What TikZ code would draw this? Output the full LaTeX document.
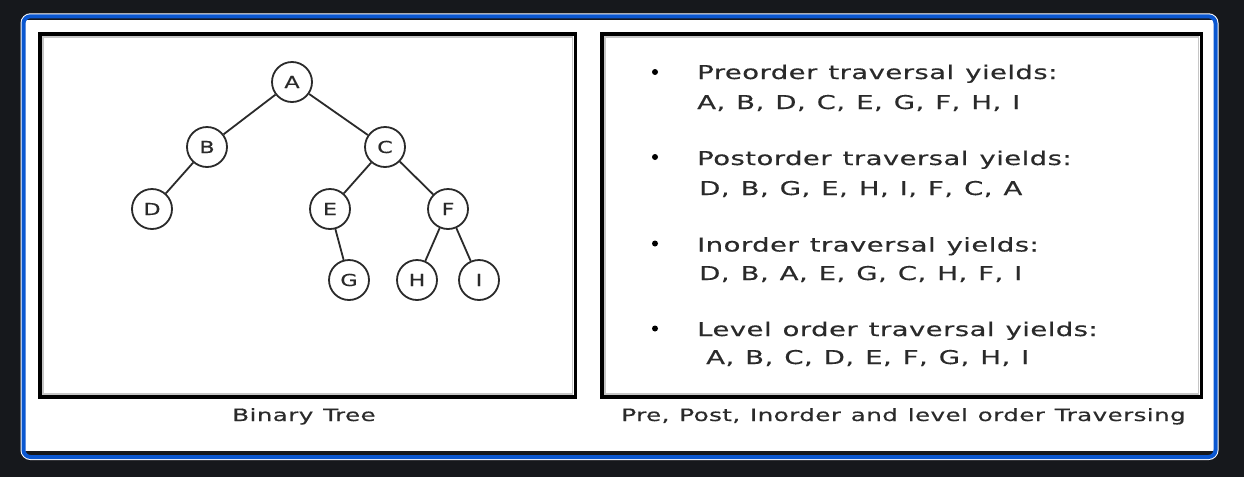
\documentclass[tikz,border=0pt]{standalone}
\usepackage{fontspec}
\setmainfont{DejaVu Sans}
\newfontfamily\wide[FakeStretch=1.45, FakeBold=0.4, WordSpace=1.2, LetterSpace=2.2]{DejaVu Sans}
\newfontfamily\nodefont[FakeStretch=1.35, FakeBold=0.4]{DejaVu Sans}
\usetikzlibrary{positioning}
\definecolor{pagebg}{HTML}{16181C}
\definecolor{framebl}{HTML}{0B57D0}
\definecolor{ink}{HTML}{2A2A2A}
\tikzset{
    vertex/.style={circle, draw=ink, line width=1.8pt, minimum size=40pt, inner sep=0pt,
        text=ink, font=\nodefont\fontsize{16.5}{16.5}\selectfont}, % tree nodes
    link/.style={draw=ink, line width=1.8pt},
    panel/.style={draw=black, line width=3.5pt},
    panelshade/.style={draw=gray!45, line width=1.5pt},
    travline/.style={anchor=base west, inner sep=0pt, text=ink, font=\wide\fontsize{19}{19}\selectfont},
    caption/.style={anchor=base, inner sep=0pt, text=ink, font=\wide\fontsize{17}{17}\selectfont},
    dot/.style={circle, fill=black, inner sep=0pt, minimum size=6pt},
}
\begin{document}
\begin{tikzpicture}[x=1pt, y=-1pt]
    \useasboundingbox (0,0) rectangle (1244,477);
    % background and frame
    \fill[pagebg] (0,0) rectangle (1244,477);
    \draw[white, line width=6pt, rounded corners=7pt, fill=white] (23.5,16.3) rectangle (1215.5,457);
    \fill[pagebg] (25,18.3) rectangle (1214,20);
    \fill[pagebg] (25,451) rectangle (1214,455);
    \draw[framebl, line width=4pt, rounded corners=7pt] (23.5,16.3) rectangle (1215.5,457);
    % the two panels
    \draw[panelshade] (43,37) rectangle (572.5,394);
    \draw[panel] (40,34) rectangle (575.5,397);
    \draw[panelshade] (605,37) rectangle (1198.5,394);
    \draw[panel] (602,34) rectangle (1201.5,397);

    % binary tree
    \node[vertex] (A) at (292,82) {A};
    \node[vertex] (B) at (207,147) {B};
    \node[vertex] (C) at (385,147) {C};
    \node[vertex] (D) at (152,209) {D};
    \node[vertex] (E) at (330,209) {E};
    \node[vertex] (F) at (448,209) {F};
    \node[vertex] (G) at (349,280) {G};
    \node[vertex] (H) at (417,280) {H};
    \node[vertex] (I) at (479,280) {I};
    \draw[link]
    (A) -- (B)
    (A) -- (C)
    (B) -- (D)
    (C) -- (E)
    (C) -- (F)
    (E) -- (G)
    (F) -- (H)
    (F) -- (I);

    % traversals
    \node[dot] (b1) at (655,72) {};
    \node[travline] (pre) at (697,79) {Preorder traversal yields:};
    \node[travline] (preseq) at (697,109) {A, B, D, C, E, G, F, H, I};
    \node[dot] (b2) at (655,157) {};
    \node[travline] (post) at (697,165) {Postorder traversal yields:};
    \node[travline] (postseq) at (699,195) {D, B, G, E, H, I, F, C, A};
    \node[dot] (b3) at (655,243.5) {};
    \node[travline] (in) at (697,251.5) {Inorder traversal yields:};
    \node[travline] (inseq) at (699,280) {D, B, A, E, G, C, H, F, I};
    \node[dot] (b4) at (655,328.5) {};
    \node[travline] (level) at (697,336) {Level order traversal yields:};
    \node[travline] (levelseq) at (706,364) {A, B, C, D, E, F, G, H, I};

    % captions
    \node[caption] (treecap) at (304,421) {Binary Tree};
    \node[caption] (travcap) at (903.5,421) {Pre, Post, Inorder and level order Traversing};
\end{tikzpicture}
\end{document}
